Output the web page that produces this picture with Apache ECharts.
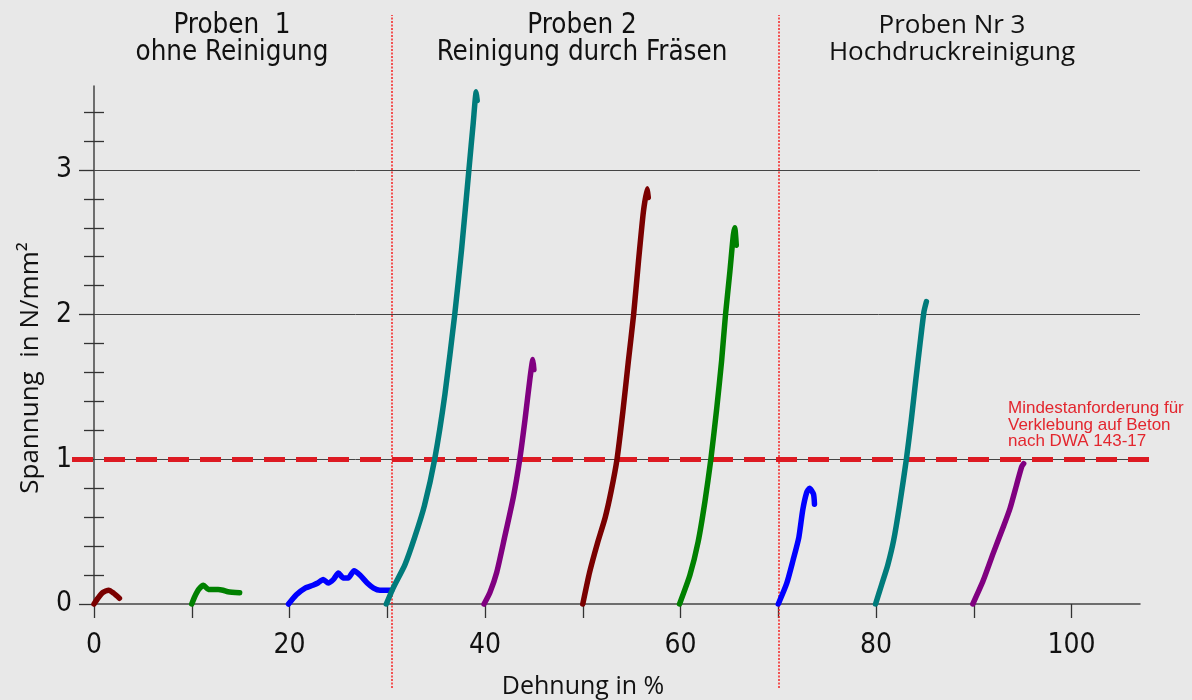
<!DOCTYPE html>
<html>
<head>
<meta charset="utf-8">
<script src="https://cdn.jsdelivr.net/npm/echarts@6/dist/echarts.min.js"></script>
<style>html,body{margin:0;padding:0;background:#e8e8e8;}#c{width:1192px;height:700px;}</style>
</head>
<body>
<div id="c"></div>
<script>
// ---- data ----
const xTicks = [0, 10, 20, 30, 40, 50, 60, 70, 80, 90, 100];
const xLabels = [0, 20, 40, 60, 80, 100];
const yMajor = [0, 1, 2, 3];
const yMinor = [0.2, 0.4, 0.6, 0.8, 1.2, 1.4, 1.6, 1.8, 2.2, 2.4, 2.6, 2.8, 3.2, 3.4];
const sectionBounds = [30.5, 70];
const threshold = 1;
const groupTitles = [["Proben  1", "ohne Reinigung"], ["Proben 2", "Reinigung durch Fräsen"], ["Proben Nr 3", "Hochdruckreinigung"]];
const thresholdNote = "Mindestanforderung für\nVerklebung auf Beton\nnach DWA 143-17";

// Proben 1 (ohne Reinigung)
const p1a = [[0,0],[0.4,0.04],[0.9,0.08],[1.5,0.095],[2.0,0.075],[2.6,0.04]];
const p1b = [[10,0],[10.3,0.05],[10.7,0.1],[11.2,0.13],[11.7,0.1],[12.2,0.1],[12.7,0.1],[13.2,0.095],[13.7,0.085],[14.9,0.078]];
const p1c = [[19.9,0],[20.7,0.064],[21.6,0.11],[22.4,0.13],[22.9,0.145],[23.45,0.17],[23.96,0.145],[24.5,0.17],[25.0,0.214],[25.5,0.18],[26.0,0.18],[26.6,0.23],[27.2,0.2],[27.95,0.145],[28.6,0.11],[29.25,0.095],[30.45,0.095]];
// Proben 2 (Reinigung durch Fräsen)
const p2a = [[29.9,0],[30.6,0.11],[31.8,0.27],[32.8,0.46],[33.8,0.68],[34.85,1.0],[35.9,1.45],[36.9,2.0],[37.6,2.45],[38.35,3.0],[38.8,3.33],[39.1,3.54],[39.2,3.48]];
const p2b = [[39.9,0],[40.5,0.08],[41.2,0.22],[42.0,0.46],[42.9,0.74],[43.55,1.0],[44.1,1.28],[44.6,1.56],[44.9,1.69],[45.0,1.62]];
const p2c = [[50.0,0],[50.7,0.22],[51.5,0.42],[52.3,0.6],[52.9,0.78],[53.5,1.0],[54.1,1.33],[54.65,1.67],[55.2,2.0],[55.7,2.37],[56.2,2.71],[56.6,2.87],[56.7,2.81]];
const p2d = [[59.9,0],[60.96,0.2],[61.8,0.43],[62.5,0.71],[63.1,1.0],[63.7,1.35],[64.2,1.68],[64.6,2.0],[65.05,2.3],[65.4,2.55],[65.55,2.6],[65.7,2.48]];
// Proben Nr 3 (Hochdruckreinigung)
const p3a = [[70.0,0],[70.85,0.14],[71.5,0.3],[72.1,0.46],[72.5,0.65],[72.9,0.77],[73.2,0.8],[73.6,0.76],[73.7,0.69]];
const p3b = [[79.95,0],[80.6,0.14],[81.2,0.27],[81.8,0.44],[82.4,0.68],[83.1,1.0],[83.6,1.27],[84.05,1.54],[84.5,1.8],[84.9,2.02],[85.15,2.09]];
const p3c = [[89.9,0],[90.95,0.16],[91.98,0.35],[93.0,0.53],[93.7,0.66],[94.4,0.83],[94.9,0.95],[95.1,0.97]];

const curves = [
  [p1a, '#7a0000'], [p1b, '#008000'], [p1c, '#0000ff'],
  [p2a, '#007b7b'], [p2b, '#800080'], [p2c, '#7a0000'], [p2d, '#008000'],
  [p3a, '#0000ff'], [p3b, '#007b7b'], [p3c, '#800080']
];

// ---- chart ----
const chart = echarts.init(document.getElementById('c'), null, {renderer: 'canvas'});
const XMAX = 107, YMAX = 3.58;
const labelFont = "'DejaVu Sans Condensed', 'Liberation Sans Narrow', sans-serif";
const tickColor = '#333';

const series = curves.map(([d, c]) => ({
  type: 'line', xAxisIndex: 0, yAxisIndex: 0, data: d, showSymbol: false, symbol: 'none',
  smooth: 0.2, clip: false, z: 5, silent: true,
  lineStyle: {color: c, width: 5.5, cap: 'round', join: 'round'}
}));
series.push({
  type: 'line', xAxisIndex: 1, yAxisIndex: 3, data: [], silent: true, z: 3,
  markLine: {symbol: 'none', silent: true, label: {show: false},
    lineStyle: {color: '#f52222', width: 1.5, type: [2, 1.5]},
    data: sectionBounds.map(v => ({xAxis: v}))}
});
series.push({
  type: 'line', xAxisIndex: 2, yAxisIndex: 4, data: [], silent: true, z: 4,
  markLine: {symbol: 'none', silent: true, label: {show: false},
    lineStyle: {color: '#dd1a22', width: 5, type: [21, 11]},
    data: [{yAxis: threshold}]}
});

const graphics = [];
const titleX = [232, 582, 952];
groupTitles.forEach((t, i) => {
  const f = i < 2 ? "27.5px " + labelFont : "26px 'Open Sans', sans-serif";
  graphics.push({type: 'text', x: titleX[i], y: 26, silent: true, style: {text: t[0], font: f, fill: '#111', textAlign: 'center', textVerticalAlign: 'middle'}});
  graphics.push({type: 'text', x: titleX[i], y: 53, silent: true, style: {text: t[1], font: f, fill: '#111', textAlign: 'center', textVerticalAlign: 'middle'}});
});
graphics.push({type: 'text', x: 1008, y: 400, silent: true, style: {text: thresholdNote, font: "17px 'Liberation Sans', Arial, sans-serif", fill: '#e3262e', lineHeight: 16.7, textAlign: 'left', textVerticalAlign: 'top'}});
graphics.push({type: 'text', x: 583, y: 687, silent: true, style: {text: 'Dehnung in %', font: "25px 'Open Sans', sans-serif", fill: '#111', textAlign: 'center', textVerticalAlign: 'middle'}});
graphics.push({type: 'text', x: 31, y: 368, rotation: Math.PI / 2, silent: true, style: {text: 'Spannung  in N/mm²', font: "26px 'Open Sans', sans-serif", fill: '#111', textAlign: 'center', textVerticalAlign: 'middle'}});

const hiddenAxis = {show: false};
chart.setOption({
  backgroundColor: '#e8e8e8',
  animation: false,
  grid: [
    {left: 94, right: 52, top: 86, bottom: 96},
    {left: 94, right: 52, top: 15, bottom: 12},
    {left: 72, right: 36, top: 86, bottom: 96}
  ],
  xAxis: [
    {type: 'value', gridIndex: 0, min: 0, max: XMAX, position: 'bottom',
      axisLine: {show: true, onZero: false, lineStyle: {color: '#444', width: 1.5}},
      axisTick: {show: true, customValues: xTicks, length: 14, lineStyle: {color: tickColor, width: 1.3}},
      axisLabel: {show: true, customValues: xLabels, margin: 28, color: '#111', fontSize: 28, fontFamily: labelFont},
      splitLine: {show: false}},
    Object.assign({type: 'value', gridIndex: 1, min: 0, max: XMAX}, hiddenAxis),
    Object.assign({type: 'value', gridIndex: 2, min: 0, max: 1}, hiddenAxis)
  ],
  yAxis: [
    {type: 'value', gridIndex: 0, min: 0, max: YMAX, interval: 1, position: 'left',
      axisLine: {show: true, onZero: false, lineStyle: {color: '#444', width: 1.5}},
      axisTick: {show: true, customValues: yMajor, length: 15, lineStyle: {color: tickColor, width: 1.3}},
      axisLabel: {show: true, customValues: yMajor, margin: 22, color: '#111', fontSize: 28, fontFamily: labelFont},
      splitLine: {show: true, showMinLine: false, lineStyle: {color: '#444', width: 1}}},
    {type: 'value', gridIndex: 0, min: 0, max: YMAX, position: 'left', offset: 0, axisLine: {show: false, onZero: false},
      axisTick: {show: true, customValues: yMinor, length: 10, inside: false, lineStyle: {color: tickColor, width: 1.3}},
      axisLabel: {show: false}, splitLine: {show: false}},
    {type: 'value', gridIndex: 0, min: 0, max: YMAX, position: 'left', offset: 0, axisLine: {show: false, onZero: false},
      axisTick: {show: true, customValues: yMinor, length: 10, inside: true, lineStyle: {color: tickColor, width: 1.3}},
      axisLabel: {show: false}, splitLine: {show: false}},
    Object.assign({type: 'value', gridIndex: 1, min: 0, max: 1}, hiddenAxis),
    Object.assign({type: 'value', gridIndex: 2, min: 0, max: YMAX}, hiddenAxis)
  ],
  series: series,
  graphic: graphics
});
</script>
</body>
</html>
